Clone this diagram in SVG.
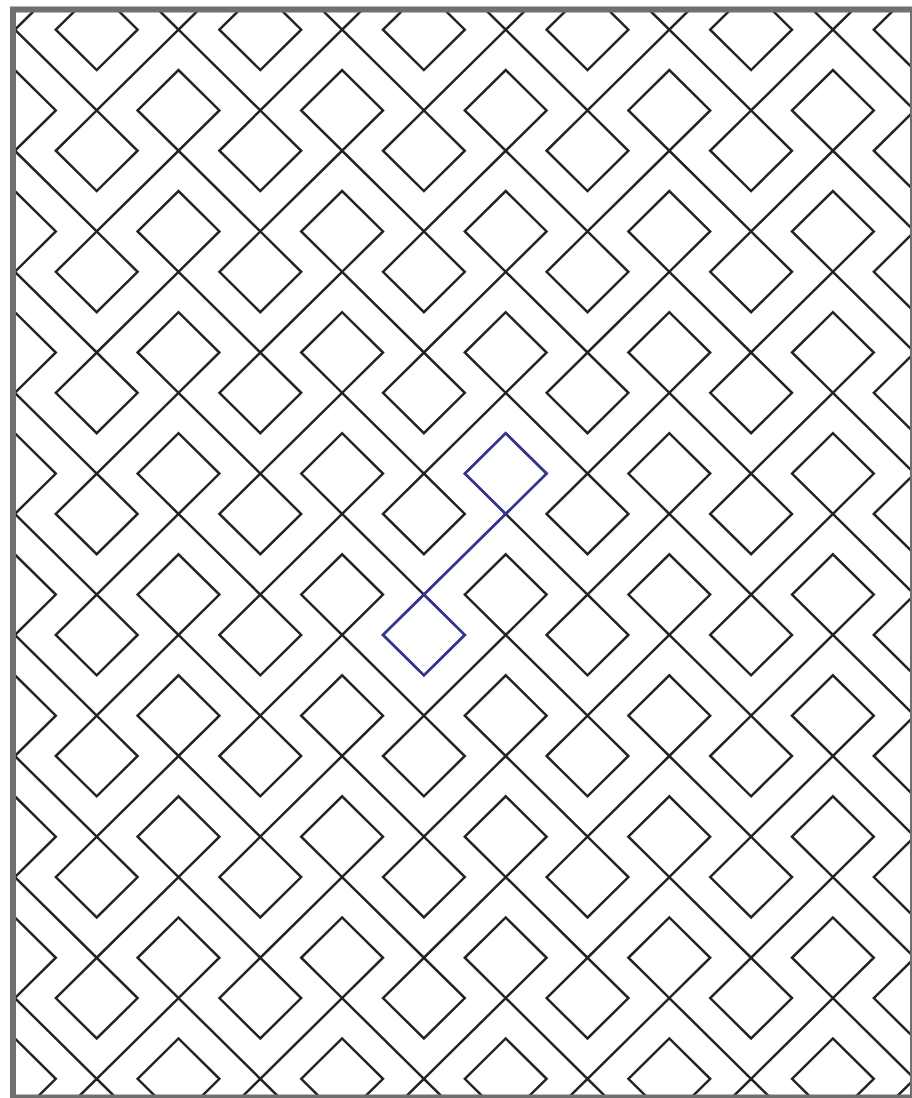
<svg xmlns="http://www.w3.org/2000/svg" xmlns:xlink="http://www.w3.org/1999/xlink" width="912" height="1098" viewBox="0 0 912 1098">
<style>
.ln{fill:none;stroke:#222222;stroke-width:2.5;vector-effect:non-scaling-stroke;stroke-linejoin:miter}
.bl{fill:none;stroke:#34349a;stroke-width:2.5;vector-effect:non-scaling-stroke;stroke-linejoin:miter}
</style>
<defs>
<clipPath id="clip"><rect x="13" y="9" width="899" height="1089"/></clipPath>
<g id="cell">
<path class="ln" d="M-1 0L0 -1L1 0L0 1Z M1 2L2 1L3 2L2 3Z M2 3L0 5 M2 3L4 5"/>
</g>
<g id="row">
<use href="#cell" x="-4"/>
<use href="#cell" x="0"/>
<use href="#cell" x="4"/>
<use href="#cell" x="8"/>
<use href="#cell" x="12"/>
<use href="#cell" x="16"/>
<use href="#cell" x="20"/>
</g>
</defs>
<rect width="912" height="1098" fill="#ffffff"/>
<g clip-path="url(#clip)">
<g id="pattern" transform="translate(96.7 29.7) scale(40.9 40.35)">
<use href="#row" y="-3"/>
<use href="#row" y="0"/>
<use href="#row" y="3"/>
<use href="#row" y="6"/>
<use href="#row" y="9"/>
<use href="#row" y="12"/>
<use href="#row" y="15"/>
<use href="#row" y="18"/>
<use href="#row" y="21"/>
<use href="#row" y="24"/>
<use href="#row" y="27"/>
</g>
<g transform="translate(96.7 29.7) scale(40.9 40.35)">
<g id="loop-upper"><path class="bl" d="M9 11L10 10L11 11L10 12Z"/></g>
<g id="connectors"><path class="bl" d="M10 12L8 14"/></g>
<g id="loop-lower"><path class="bl" d="M7 15L8 14L9 15L8 16Z"/></g>
</g>
</g>
<rect id="frame" x="13" y="9.5" width="900" height="1088" fill="none" stroke="#707070" stroke-width="6"/>
</svg>
